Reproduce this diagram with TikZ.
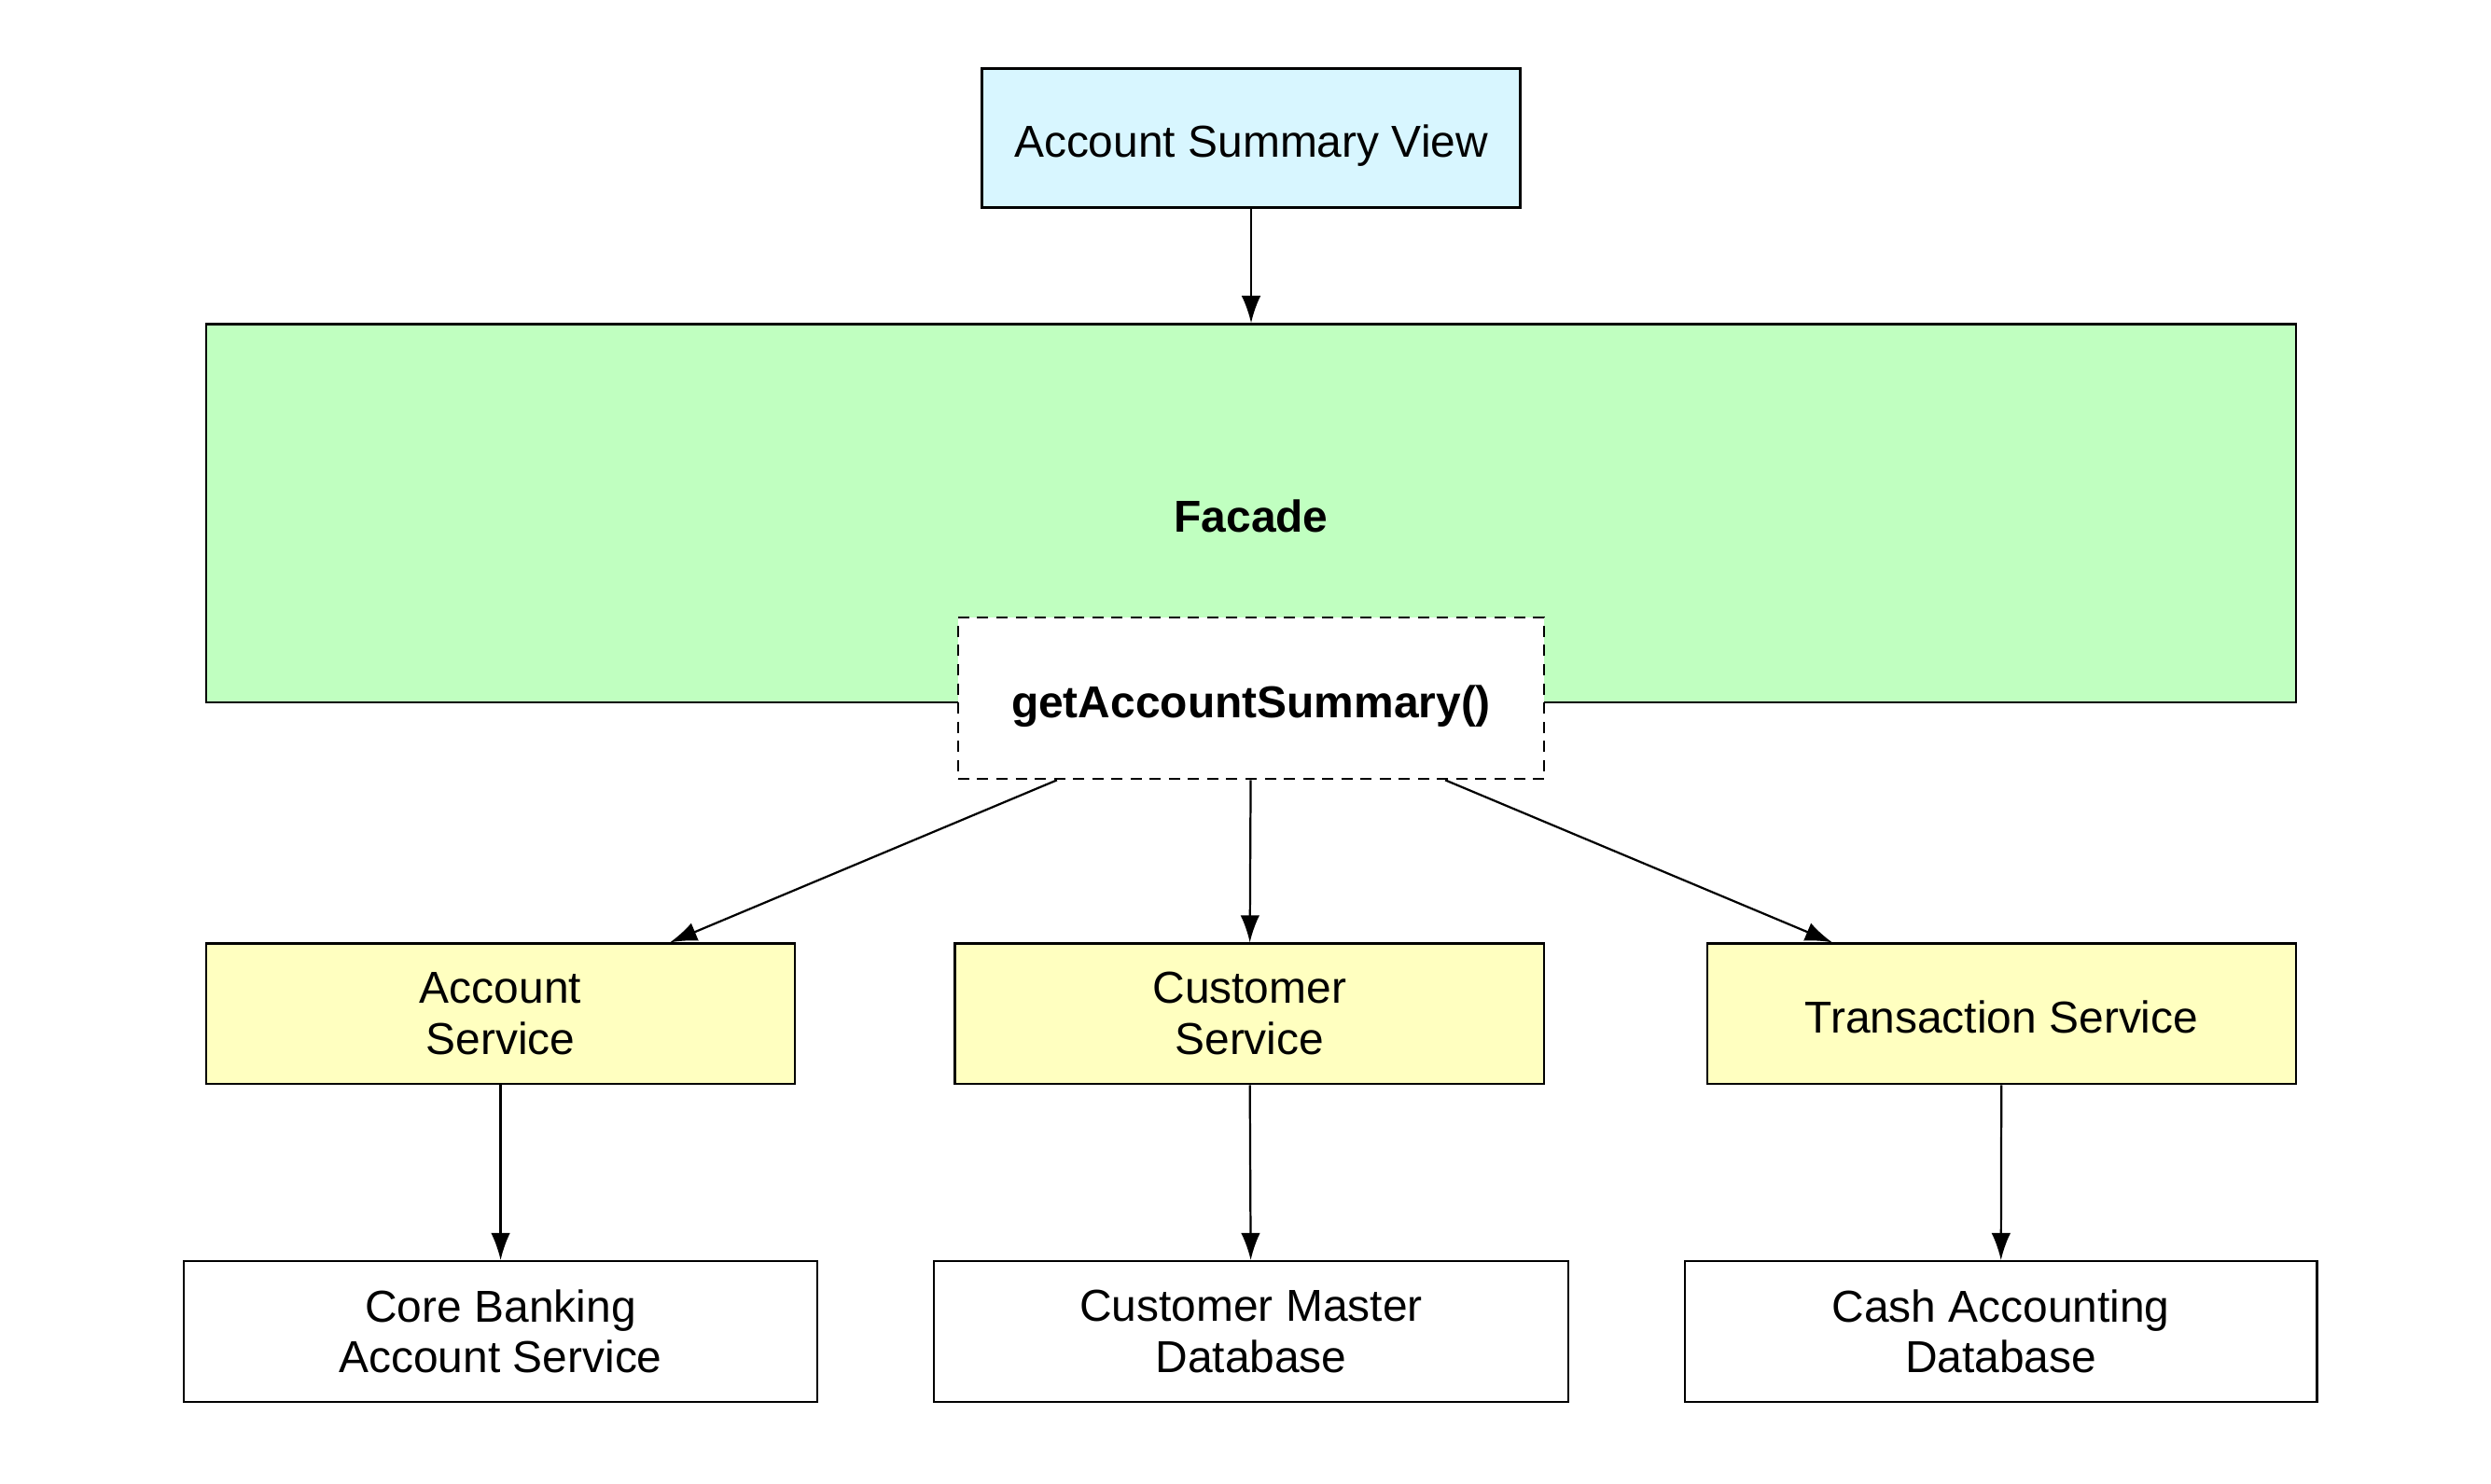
\documentclass[tikz,border=0pt]{standalone}
\usepackage{fontspec}
\setmainfont{Liberation Sans}
\usetikzlibrary{arrows.meta}
\definecolor{viewc}{HTML}{D8F6FF}
\definecolor{facadec}{HTML}{C0FFC0}
\definecolor{servc}{HTML}{FFFFC0}
\tikzset{
  box/.style={draw=black, line width=1.3pt, inner sep=0pt, align=center,
    font=\fontsize{28}{32}\selectfont},
  oneline/.style={text height=24pt, text depth=0pt},
  conn/.style={line width=1.3pt, -{Latex[length=17pt,width=12pt]}},
}
\begin{document}
\begin{tikzpicture}[x=1pt,y=-1pt]
\useasboundingbox (0,0) rectangle (1560,929);
\node[box, oneline, fill=viewc, minimum width=337pt, minimum height=87pt] (asv) at (783.5,86.5) {Account Summary View};
\node[box, oneline, fill=facadec, minimum width=1309pt, minimum height=237pt, font=\fontsize{28}{32}\selectfont\bfseries] (fac) at (783.5,321.5) {Facade};
\node[box, oneline, fill=white, dashed, dash pattern=on 7pt off 5pt, minimum width=367pt, minimum height=101pt, font=\fontsize{28}{32}\selectfont\bfseries] (m) at (783.5,437.5) {getAccountSummary()};
\node[box, fill=servc, minimum width=369pt, minimum height=88pt] (acct) at (313.5,635) {Account\\Service};
\node[box, fill=servc, minimum width=369pt, minimum height=88pt] (cust) at (782.5,635) {Customer\\Service};
\node[box, oneline, fill=servc, minimum width=369pt, minimum height=88pt] (trans) at (1253.5,635) {Transaction Service};
\node[box, fill=white, minimum width=397pt, minimum height=88pt] (core) at (313.5,834) {Core Banking\\Account Service};
\node[box, fill=white, minimum width=397pt, minimum height=88pt] (cmd) at (783.5,834) {Customer Master\\Database};
\node[box, fill=white, minimum width=396pt, minimum height=88pt] (cad) at (1253,834) {Cash Accounting\\Database};
\draw[conn] (asv) -- (fac);
\draw[conn] (m) -- (acct);
\draw[conn] (m) -- (cust);
\draw[conn] (m) -- (trans);
\draw[conn] (acct) -- (core);
\draw[conn] (cust) -- (cmd);
\draw[conn] (trans) -- (cad);
\end{tikzpicture}
\end{document}
